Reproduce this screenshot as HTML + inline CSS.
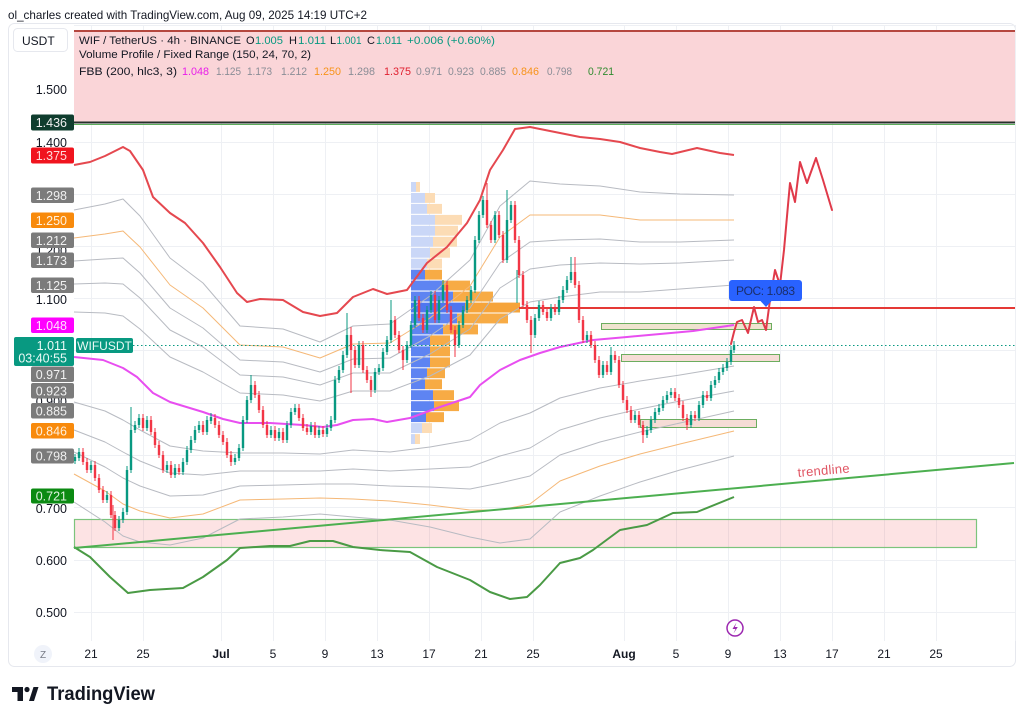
<!DOCTYPE html>
<html><head><meta charset="utf-8"><style>
html,body{margin:0;padding:0;background:#fff;}
svg{display:block;font-family:"Liberation Sans",Arial,sans-serif;}
</style></head><body>
<svg width="1024" height="721" viewBox="0 0 1024 721" xmlns="http://www.w3.org/2000/svg">
<rect x="0" y="0" width="1024" height="721" fill="#fff"/>
<text x="8" y="19" font-size="12" fill="#131722" textLength="359" lengthAdjust="spacingAndGlyphs">ol_charles created with TradingView.com, Aug 09, 2025 14:19 UTC+2</text>
<rect x="8.5" y="23.5" width="1007" height="643" rx="6" fill="none" stroke="#e6e8ee"/>
<!-- grid -->
<g stroke="#eef0f4" stroke-width="1">
<path d="M74 25.5H1015M74 89.5H1015M74 142.5H1015M74 194.5H1015M74 246.5H1015M74 298.5H1015M74 350.5H1015M74 403.5H1015M74 455.5H1015M74 507.5H1015M74 560.5H1015M74 612.5H1015"/>
<path d="M91.5 25V641M143.5 25V641M221.5 25V641M273.5 25V641M325.5 25V641M377.5 25V641M429.5 25V641M481.5 25V641M533.5 25V641M624.5 25V641M676.5 25V641M728.5 25V641M780.5 25V641M832.5 25V641M884.5 25V641M936.5 25V641M1015.5 25V641"/>
</g>
<!-- top resistance box -->
<rect x="74" y="31" width="941" height="92" fill="#fad5d8"/>
<line x1="74" y1="31" x2="1015" y2="31" stroke="#b5473f" stroke-width="2"/>
<line x1="74" y1="122.5" x2="1015" y2="122.5" stroke="#26302b" stroke-width="2"/>
<line x1="74" y1="124.5" x2="1015" y2="124.5" stroke="#5cae5c" stroke-width="1"/>
<!-- demand boxes -->
<rect x="74.5" y="519.5" width="902" height="28" fill="rgba(242,80,90,0.16)" stroke="#7cc47c" stroke-width="1.2"/>
<rect x="601.5" y="323.5" width="170" height="6" fill="#efe3cf" stroke="#6cad5f" stroke-width="1"/>
<rect x="621.5" y="354.5" width="158" height="7" fill="#f6dcd6" stroke="#6cad5f" stroke-width="1"/>
<rect x="640.5" y="419.5" width="116" height="8" fill="#f6dcd6" stroke="#6cad5f" stroke-width="1"/>
<!-- volume profile -->
<g>
<rect x="411" y="182.0" width="5" height="9.9" fill="#cad7f7"/><rect x="416" y="182.0" width="4" height="9.9" fill="#fcdcb5"/>
<rect x="411" y="193.0" width="14" height="9.9" fill="#cad7f7"/><rect x="425" y="193.0" width="10" height="9.9" fill="#fcdcb5"/>
<rect x="411" y="203.9" width="16" height="9.9" fill="#cad7f7"/><rect x="427" y="203.9" width="15" height="9.9" fill="#fcdcb5"/>
<rect x="411" y="214.9" width="24" height="9.9" fill="#cad7f7"/><rect x="435" y="214.9" width="27" height="9.9" fill="#fcdcb5"/>
<rect x="411" y="225.8" width="24" height="9.9" fill="#cad7f7"/><rect x="435" y="225.8" width="23" height="9.9" fill="#fcdcb5"/>
<rect x="411" y="236.8" width="22" height="9.9" fill="#cad7f7"/><rect x="433" y="236.8" width="24" height="9.9" fill="#fcdcb5"/>
<rect x="411" y="247.8" width="19" height="9.9" fill="#cad7f7"/><rect x="430" y="247.8" width="20" height="9.9" fill="#fcdcb5"/>
<rect x="411" y="258.7" width="16" height="9.9" fill="#cad7f7"/><rect x="427" y="258.7" width="15" height="9.9" fill="#fcdcb5"/>
<rect x="411" y="269.7" width="14" height="9.9" fill="#5e84f2"/><rect x="425" y="269.7" width="17" height="9.9" fill="#f7ab45"/>
<rect x="411" y="280.6" width="31" height="9.9" fill="#5e84f2"/><rect x="442" y="280.6" width="28" height="9.9" fill="#f7ab45"/>
<rect x="411" y="291.6" width="42" height="9.9" fill="#5e84f2"/><rect x="453" y="291.6" width="40" height="9.9" fill="#f7ab45"/>
<rect x="411" y="302.6" width="54" height="9.9" fill="#4f76f0"/><rect x="465" y="302.6" width="55" height="9.9" fill="#f6a43a"/>
<rect x="411" y="313.5" width="46" height="9.9" fill="#5e84f2"/><rect x="457" y="313.5" width="51" height="9.9" fill="#f7ab45"/>
<rect x="411" y="324.5" width="32" height="9.9" fill="#5e84f2"/><rect x="443" y="324.5" width="35" height="9.9" fill="#f7ab45"/>
<rect x="411" y="335.4" width="19" height="9.9" fill="#5e84f2"/><rect x="430" y="335.4" width="20" height="9.9" fill="#f7ab45"/>
<rect x="411" y="346.4" width="19" height="9.9" fill="#5e84f2"/><rect x="430" y="346.4" width="20" height="9.9" fill="#f7ab45"/>
<rect x="411" y="357.4" width="19" height="9.9" fill="#5e84f2"/><rect x="430" y="357.4" width="20" height="9.9" fill="#f7ab45"/>
<rect x="411" y="368.3" width="16" height="9.9" fill="#5e84f2"/><rect x="427" y="368.3" width="18" height="9.9" fill="#f7ab45"/>
<rect x="411" y="379.3" width="14" height="9.9" fill="#5e84f2"/><rect x="425" y="379.3" width="17" height="9.9" fill="#f7ab45"/>
<rect x="411" y="390.2" width="22" height="9.9" fill="#5e84f2"/><rect x="433" y="390.2" width="21" height="9.9" fill="#f7ab45"/>
<rect x="411" y="401.2" width="23" height="9.9" fill="#5e84f2"/><rect x="434" y="401.2" width="25" height="9.9" fill="#f7ab45"/>
<rect x="411" y="412.2" width="15" height="9.9" fill="#5e84f2"/><rect x="426" y="412.2" width="18" height="9.9" fill="#f7ab45"/>
<rect x="411" y="423.1" width="11" height="9.9" fill="#cad7f7"/><rect x="422" y="423.1" width="10" height="9.9" fill="#fcdcb5"/>
<rect x="411" y="434.1" width="4" height="9.9" fill="#cad7f7"/><rect x="415" y="434.1" width="5" height="9.9" fill="#fcdcb5"/>
</g>
<!-- FBB bands -->
<g fill="none" stroke-linejoin="round">
<polyline stroke="#b8bbc2" stroke-width="1" points="74,312 105,313 123,316 140,329 170,357 203,372 240,393 283,395 320,401 353,391 390,391 430,376 470,355 500,319 530,302 560,297 600,292 640,292 680,289 734,285"/>
<polyline stroke="#b8bbc2" stroke-width="1" points="74,284 105,283 123,284 140,298 170,330 203,347 240,375 283,377 320,385 353,373 390,373 430,354 470,329 500,288 530,269 560,265 600,263 640,264 680,263 734,260"/>
<polyline stroke="#b8bbc2" stroke-width="1" points="74,261 105,259 123,258 140,273 170,308 203,328 240,360 283,362 320,372 353,359 390,358 430,336 470,308 500,263 530,242 560,240 600,239 640,242 680,242 734,240"/>
<polyline stroke="#f5b877" stroke-width="1" points="74,238 105,234 123,231 140,247 170,285 203,308 240,345 283,347 320,358 353,344 390,343 430,318 470,286 500,237 530,215 560,215 600,215 640,220 680,220 734,220"/>
<polyline stroke="#b8bbc2" stroke-width="1" points="74,210 105,204 123,199 140,216 170,258 203,283 240,326 283,329 320,342 353,326 390,324 430,296 470,260 500,206 530,181 560,184 600,186 640,192 680,194 734,195"/>
<polyline stroke="#b8bbc2" stroke-width="1" points="74,402 105,411 123,420 140,430 170,446 203,451 240,453 283,453 320,454 353,450 390,452 430,447 470,440 500,423 530,413 560,398 600,388 640,381 680,375 734,366"/>
<polyline stroke="#b8bbc2" stroke-width="1" points="74,430 105,442 123,452 140,461 170,473 203,475 240,471 283,471 320,471 353,469 390,471 430,469 470,467 500,456 530,448 560,430 600,418 640,409 680,401 734,391"/>
<polyline stroke="#b8bbc2" stroke-width="1" points="74,452 105,467 123,478 140,486 170,496 203,495 240,486 283,485 320,484 353,484 390,486 430,487 470,489 500,483 530,476 560,455 600,442 640,432 680,423 734,411"/>
<polyline stroke="#f5b877" stroke-width="1" points="74,474 105,491 123,504 140,511 170,518 203,514 240,500 283,499 320,498 353,499 390,501 430,505 470,510 500,510 530,504 560,481 600,466 640,454 680,444 734,431"/>
<polyline stroke="#b8bbc2" stroke-width="1" points="74,502 105,522 123,536 140,542 170,545 203,538 240,519 283,517 320,514 353,517 390,520 430,527 470,537 500,543 530,539 560,512 600,496 640,482 680,470 734,456"/>
<polyline stroke="#e5484f" stroke-width="2" points="74,165 90,162 105,156 123,147 130,151 143,170 153,197 170,213 185,223 203,243 220,267 237,293 247,302 260,299 283,300 303,312 320,316 337,313 353,297 373,289 387,294 407,290 427,263 447,247 467,223 480,200 490,170 503,150 515,129 530,127 545,130 560,133 580,137 600,139 620,142 640,148 660,152 672,154 697,148 720,153 734,155"/>
<polyline stroke="#e84ef0" stroke-width="2" points="74,357 103,360 123,368 137,377 153,393 170,402 203,412 223,419 240,423 270,423 303,425 323,427 337,425 353,420 373,419 387,422 410,418 440,407 470,397 480,385 500,370 520,360 540,353 560,347 593,340 627,337 660,334 693,331 734,325"/>
<polyline stroke="#4a9a45" stroke-width="2" points="74,547 90,557 110,577 128,593 150,590 183,588 203,577 227,560 240,548 270,546 290,546 310,541 333,541 353,547 380,550 410,552 437,567 470,580 490,592 510,599 527,597 540,585 560,563 580,558 593,550 620,530 647,525 673,513 697,512 734,497"/>
</g>
<!-- POC line -->
<line x1="519" y1="308" x2="1015" y2="308" stroke="#e53935" stroke-width="2"/>
<!-- current price dotted -->
<line x1="133" y1="345.5" x2="1015" y2="345.5" stroke="#089981" stroke-width="1" stroke-dasharray="1.5,2.5"/>
<!-- candles -->
<path fill="none" stroke="#089981" stroke-width="1" d="M75 454V464M79 448V461M91 461V473M107 491V503M119 516V531M123 508V523M127 466V515M131 407V473M135 421V433M139 414V428M147 416V431M167 461V473M175 464V478M183 458V475M187 446V465M191 436V453M195 426V443M199 421V433M207 416V435M211 413V424M235 454V465M239 444V461M243 416V451M247 396V423M251 375V403M271 426V438M279 428V441M287 421V443M291 408V428M295 404V415M311 422V435M319 426V438M327 424V437M331 416V431M335 376V423M339 366V383M343 351V373M347 313V358M359 341V368M375 368V393M379 364V375M383 348V371M387 336V355M391 300V343M407 341V363M411 321V348M415 296V328M427 306V333M431 291V313M439 296V323M443 280V303M459 321V348M463 306V328M467 296V313M471 286V303M475 236V293M479 211V243M483 196V218M495 211V243M507 190V263M511 201V223M517 270V303M535 314V338M539 301V321M551 304V321M559 296V315M563 286V303M567 276V293M571 257V283M587 331V343M603 361V378M611 347V375M635 411V423M647 426V438M651 416V433M655 408V423M659 404V415M663 396V411M667 391V403M671 388V398M691 411V428M699 401V421M703 391V408M711 381V401M715 376V388M719 368V383M723 364V375M727 358V371M731 346V365M734 341V353"/>
<path fill="none" stroke="#f23645" stroke-width="1" d="M83 448V465M87 458V473M95 461V481M99 474V493M103 486V503M111 491V518M113 505V540M115 511V531M143 414V431M151 416V435M155 428V448M159 441V458M163 451V473M171 461V478M179 464V475M203 421V435M215 414V428M219 421V438M223 431V445M227 438V458M231 451V466M255 381V398M259 391V413M263 406V428M267 421V438M275 426V441M283 428V443M299 404V421M303 414V431M307 424V435M315 422V438M323 426V437M351 327V393M355 346V368M363 341V373M367 366V383M371 376V397M395 316V338M399 331V353M403 346V370M419 296V321M423 314V333M435 291V323M447 281V313M451 306V333M455 326V357M487 183V228M491 221V243M499 211V238M503 231V263M515 201V243M519 236V278M523 271V308M527 301V323M531 316V353M543 301V315M547 308V321M555 304V315M575 257V288M579 281V323M583 316V343M591 331V348M595 341V363M599 356V378M607 361V375M615 351V363M619 356V388M623 381V403M627 396V413M631 406V423M639 411V428M643 421V443M675 388V401M679 394V408M683 401V421M687 414V430M695 411V421M707 391V401"/>
<path fill="none" stroke="#089981" stroke-width="2.4" d="M75 461V457M79 458V452M91 470V465M107 500V495M119 528V520M123 520V512M127 512V470M131 470V430M135 430V425M139 425V418M147 428V420M167 470V465M175 475V468M183 472V462M187 462V450M191 450V440M195 440V430M199 430V425M207 432V420M211 421V417M235 462V458M239 458V448M243 448V420M247 420V400M251 400V385M271 435V430M279 438V432M287 440V425M291 425V412M295 412V408M311 432V426M319 435V430M327 434V428M331 428V420M335 420V380M339 380V370M343 370V355M347 355V335M359 365V345M375 390V372M379 372V368M383 368V352M387 352V340M391 340V320M407 360V345M411 345V325M415 325V300M427 330V310M431 310V295M439 320V300M443 300V285M459 345V325M463 325V310M467 310V300M471 300V290M475 290V240M479 240V215M483 215V200M495 240V215M507 260V220M511 220V205M535 335V318M539 318V305M551 318V308M559 312V300M563 300V290M567 290V280M571 280V272M587 340V335M603 375V365M611 372V355M635 420V415M647 435V430M651 430V420M655 420V412M659 412V408M663 408V400M667 400V395M671 395V392M691 425V415M699 418V405M703 405V395M711 398V385M715 385V380M719 380V372M723 372V368M727 368V362M731 362V350M734 350V345"/>
<path fill="none" stroke="#f23645" stroke-width="2.4" d="M83 452V462M87 462V470M95 465V478M99 478V490M103 490V500M111 495V515M115 515V528M143 418V428M151 420V432M155 432V445M159 445V455M163 455V470M171 465V475M179 468V472M203 425V432M215 418V425M219 425V435M223 435V442M227 442V455M231 455V462M255 385V395M259 395V410M263 410V425M267 425V435M275 430V438M283 432V440M299 408V418M303 418V428M307 428V432M315 426V435M323 430V434M351 335V350M355 350V365M363 345V370M367 370V380M371 380V390M395 320V335M399 335V350M403 350V360M419 300V318M423 318V330M435 295V320M447 285V310M451 310V330M455 330V345M487 200V225M491 225V240M499 215V235M503 235V260M515 205V240M519 240V275M523 275V305M527 305V320M531 320V335M543 305V312M547 312V318M555 308V312M575 272V285M579 285V320M583 320V340M591 335V345M595 345V360M599 360V375M607 365V372M615 355V360M619 360V385M623 385V400M627 400V410M631 410V420M639 415V425M643 425V435M675 392V398M679 398V405M683 405V418M687 418V425M695 415V418M707 395V398"/>
<!-- trendline -->
<line x1="74" y1="548" x2="1014" y2="463" stroke="#4caf50" stroke-width="2"/>
<text x="798" y="477" font-size="13" fill="#e05563" transform="rotate(-5 798 477)" textLength="52">trendline</text>
<!-- projection -->
<polyline fill="none" stroke="#e03a4a" stroke-width="2" stroke-linejoin="round" stroke-linecap="round" points="731,344 734,332 737,322 742,320 748,333 754,307 758,322 762,320 766,330 770,300 775,270 780,285 784,250 788,205 790,183 795,202 800,162 807,183 816,158 823,180 832,210"/>
<!-- POC label -->
<rect x="729" y="280" width="73" height="21" rx="3" fill="#2962ff"/>
<path d="M760 300.5 L766 307 L772 300.5 Z" fill="#2962ff"/>
<text x="736" y="295" font-size="12" fill="#1b2f6b" textLength="59">POC: 1.083</text>
<!-- lightning -->
<circle cx="735" cy="628" r="8" fill="#fff" stroke="#9c27b0" stroke-width="1.5"/>
<path d="M736.5 622.5 L732.5 629 L735.5 629 L733.5 633.5 L737.8 627 L734.8 627 Z" fill="#9c27b0"/>
<!-- legend -->
<g font-size="11" fill="#131722">
<text x="79" y="44" textLength="162" lengthAdjust="spacingAndGlyphs">WIF / TetherUS · 4h · BINANCE</text>
<text x="246" y="44">O</text><text x="255" y="44" fill="#089981" textLength="28" lengthAdjust="spacingAndGlyphs">1.005</text>
<text x="289" y="44">H</text><text x="298" y="44" fill="#089981" textLength="28" lengthAdjust="spacingAndGlyphs">1.011</text>
<text x="330" y="44">L</text><text x="336.5" y="44" fill="#089981" textLength="25" lengthAdjust="spacingAndGlyphs">1.001</text>
<text x="367" y="44">C</text><text x="376" y="44" fill="#089981" textLength="26" lengthAdjust="spacingAndGlyphs">1.011</text>
<text x="407" y="44" fill="#089981" textLength="88" lengthAdjust="spacingAndGlyphs">+0.006 (+0.60%)</text>
<text x="79" y="58" textLength="232" lengthAdjust="spacingAndGlyphs">Volume Profile / Fixed Range (150, 24, 70, 2)</text>
<text x="79" y="75" textLength="98" lengthAdjust="spacingAndGlyphs">FBB (200, hlc3, 3)</text>
<text x="182" y="75" fill="#e91ee9" textLength="27" lengthAdjust="spacingAndGlyphs">1.048</text>
<text x="216" y="75" fill="#8a8d96" textLength="25" lengthAdjust="spacingAndGlyphs">1.125</text>
<text x="247" y="75" fill="#8a8d96" textLength="25" lengthAdjust="spacingAndGlyphs">1.173</text>
<text x="281" y="75" fill="#8a8d96" textLength="26" lengthAdjust="spacingAndGlyphs">1.212</text>
<text x="314" y="75" fill="#f7931a" textLength="27" lengthAdjust="spacingAndGlyphs">1.250</text>
<text x="348" y="75" fill="#8a8d96" textLength="27" lengthAdjust="spacingAndGlyphs">1.298</text>
<text x="384" y="75" fill="#e0202f" textLength="27" lengthAdjust="spacingAndGlyphs">1.375</text>
<text x="416" y="75" fill="#8a8d96" textLength="26" lengthAdjust="spacingAndGlyphs">0.971</text>
<text x="448" y="75" fill="#8a8d96" textLength="26" lengthAdjust="spacingAndGlyphs">0.923</text>
<text x="480" y="75" fill="#8a8d96" textLength="26" lengthAdjust="spacingAndGlyphs">0.885</text>
<text x="512" y="75" fill="#f7931a" textLength="27" lengthAdjust="spacingAndGlyphs">0.846</text>
<text x="547" y="75" fill="#8a8d96" textLength="25" lengthAdjust="spacingAndGlyphs">0.798</text>
<text x="588" y="75" fill="#2e8b2e" textLength="26" lengthAdjust="spacingAndGlyphs">0.721</text>
</g>
<!-- price axis -->
<rect x="13.5" y="28.5" width="54" height="23" rx="4" fill="#fff" stroke="#e6e8ee"/>
<text x="22" y="45" font-size="12" fill="#131722">USDT</text>
<g font-size="12.5" fill="#131722" text-anchor="end">
<text x="67" y="94">1.500</text>
<text x="67" y="147">1.400</text>
<text x="67" y="255">1.200</text>
<text x="67" y="304">1.100</text>
<text x="67" y="406">0.900</text>
<text x="67" y="513">0.700</text>
<text x="67" y="565">0.600</text>
<text x="67" y="617">0.500</text>
</g>
<g>
<rect x="31" y="114.5" width="43" height="16" rx="2" fill="#0f3d2e"/>
<rect x="31" y="147.5" width="43" height="16" rx="2" fill="#f0141e"/>
<rect x="31" y="187.5" width="43" height="15.5" rx="2" fill="#7b7b7b"/>
<rect x="31" y="212.5" width="43" height="15.5" rx="2" fill="#f88a0c"/>
<rect x="31" y="232.5" width="43" height="15.5" rx="2" fill="#7b7b7b"/>
<rect x="31" y="252.5" width="43" height="15.5" rx="2" fill="#7b7b7b"/>
<rect x="31" y="277.5" width="43" height="15.5" rx="2" fill="#7b7b7b"/>
<rect x="31" y="317.5" width="43" height="15.5" rx="2" fill="#ff00ff"/>
<rect x="31" y="366.5" width="43" height="15.5" rx="2" fill="#7b7b7b"/>
<rect x="31" y="383" width="43" height="15.5" rx="2" fill="#7b7b7b"/>
<rect x="31" y="403" width="43" height="15.5" rx="2" fill="#7b7b7b"/>
<rect x="31" y="423" width="43" height="15.5" rx="2" fill="#f88a0c"/>
<rect x="31" y="448.5" width="43" height="15" rx="2" fill="#7b7b7b"/>
<rect x="31" y="488.5" width="43" height="15" rx="2" fill="#0b8a12"/>
</g>
<g font-size="12.5" fill="#f0f0f0" text-anchor="end">
<text x="67" y="127">1.436</text>
<text x="67" y="160" fill="#ffdada">1.375</text>
<text x="67" y="200">1.298</text>
<text x="67" y="225" fill="#fff0dc">1.250</text>
<text x="67" y="245">1.212</text>
<text x="67" y="265">1.173</text>
<text x="67" y="290">1.125</text>
<text x="67" y="330" fill="#ffe0ff">1.048</text>
<text x="67" y="379">0.971</text>
<text x="67" y="395.5">0.923</text>
<text x="67" y="415.5">0.885</text>
<text x="67" y="435.5" fill="#fff0dc">0.846</text>
<text x="67" y="460.5">0.798</text>
<text x="67" y="500.5" fill="#dff2df">0.721</text>
</g>
<rect x="14" y="337" width="60" height="29" rx="2" fill="#089981"/>
<text x="67" y="350" font-size="12.5" fill="#eafaf6" text-anchor="end">1.011</text>
<text x="67" y="362.5" font-size="12.5" fill="#eafaf6" text-anchor="end">03:40:55</text>
<rect x="76" y="338" width="57" height="15" rx="2" fill="#089981"/>
<text x="104.5" y="350" font-size="12" fill="#eafaf6" text-anchor="middle">WIFUSDT</text>
<!-- time axis -->
<circle cx="43" cy="654" r="9" fill="#f0f3fa"/>
<text x="43" y="658" font-size="10" fill="#787b86" text-anchor="middle">Z</text>
<g font-size="12" fill="#131722" text-anchor="middle">
<text x="91" y="658">21</text>
<text x="143" y="658">25</text>
<text x="221" y="658" font-weight="bold">Jul</text>
<text x="273" y="658">5</text>
<text x="325" y="658">9</text>
<text x="377" y="658">13</text>
<text x="429" y="658">17</text>
<text x="481" y="658">21</text>
<text x="533" y="658">25</text>
<text x="624" y="658" font-weight="bold">Aug</text>
<text x="676" y="658">5</text>
<text x="728" y="658">9</text>
<text x="780" y="658">13</text>
<text x="832" y="658">17</text>
<text x="884" y="658">21</text>
<text x="936" y="658">25</text>
</g>
<!-- TradingView logo -->
<g fill="#131722">
<path d="M12 687H23V701H17.5V692H12Z"/>
<circle cx="27" cy="689.5" r="2.6"/>
<path d="M29 701L33.5 687H38.5L34 701Z"/>
<text x="47" y="700" font-size="19" font-weight="bold" textLength="108" lengthAdjust="spacingAndGlyphs">TradingView</text>
</g>
</svg>
</body></html>
